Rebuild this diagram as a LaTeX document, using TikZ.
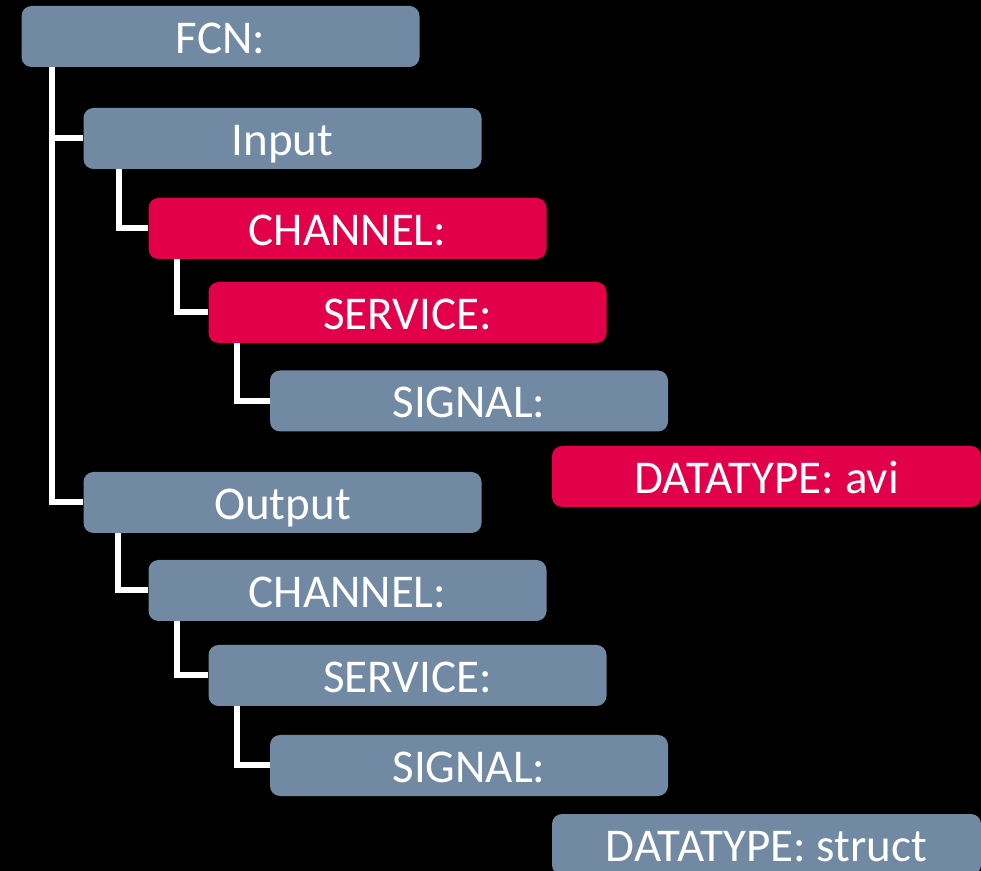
\documentclass[tikz,border=0pt]{standalone}
\usepackage{fontspec}
\setmainfont{Carlito}
\definecolor{boxgray}{HTML}{7189A3}
\definecolor{boxred}{HTML}{E2004A}
\tikzset{
    BX/.style ={rectangle, rounded corners=5pt, inner sep=0pt, text=white,
                font=\fontsize{23.5}{28}\selectfont, text height=16.6pt, text depth=0pt,
                minimum width=199pt, minimum height=30.5pt},
    BG/.style ={BX, fill=boxgray},
    BR/.style ={BX, fill=boxred},
    DT/.style ={minimum width=214.5pt},
    LN/.style ={draw=white, line width=3pt}}
\begin{document}
\begin{tikzpicture}[x=0.5pt,y=-0.5pt]
        \useasboundingbox (0,0) rectangle (981,871);
        \fill[black] (0,0) rectangle (981,871);
        % tree of boxes
        \node[BG] (fcn) at (220.5,36.5) {FCN:};
        \node[BG] (in) at (282.5,138.5) {Input};
        \node[BR] (inch) at (347.5,228.5) {CHANNEL:};
        \node[BR] (insv) at (407.5,312.5) {SERVICE:};
        \node[BG] (insg) at (469,401) {SIGNAL:};
        \node[BR,DT] (indt) at (766.5,476.5) {DATATYPE: avi};
        \node[BG] (out) at (282.5,502.5) {Output};
        \node[BG] (outch) at (347.5,590.5) {CHANNEL:};
        \node[BG] (outsv) at (407.5,675.5) {SERVICE:};
        \node[BG] (outsg) at (469,765.5) {SIGNAL:};
        \node[BG,DT] (outdt) at (766.5,844.5) {DATATYPE: struct};
        % connectors
        \coordinate (root) at ([xshift=15.5pt]fcn.south west);
        \draw[LN] (root) |- (in.west);
        \draw[LN] (root) |- (out.west);
        \draw[LN] ([xshift=18pt]in.south west) |- (inch.west);
        \draw[LN] ([xshift=14.5pt]inch.south west) |- (insv.west);
        \draw[LN] ([xshift=14.5pt]insv.south west) |- (insg.west);
        \draw[LN] ([xshift=17.5pt]out.south west) |- (outch.west);
        \draw[LN] ([xshift=14.5pt]outch.south west) |- (outsv.west);
        \draw[LN] ([xshift=14.5pt]outsv.south west) |- (outsg.west);
\end{tikzpicture}
\end{document}
